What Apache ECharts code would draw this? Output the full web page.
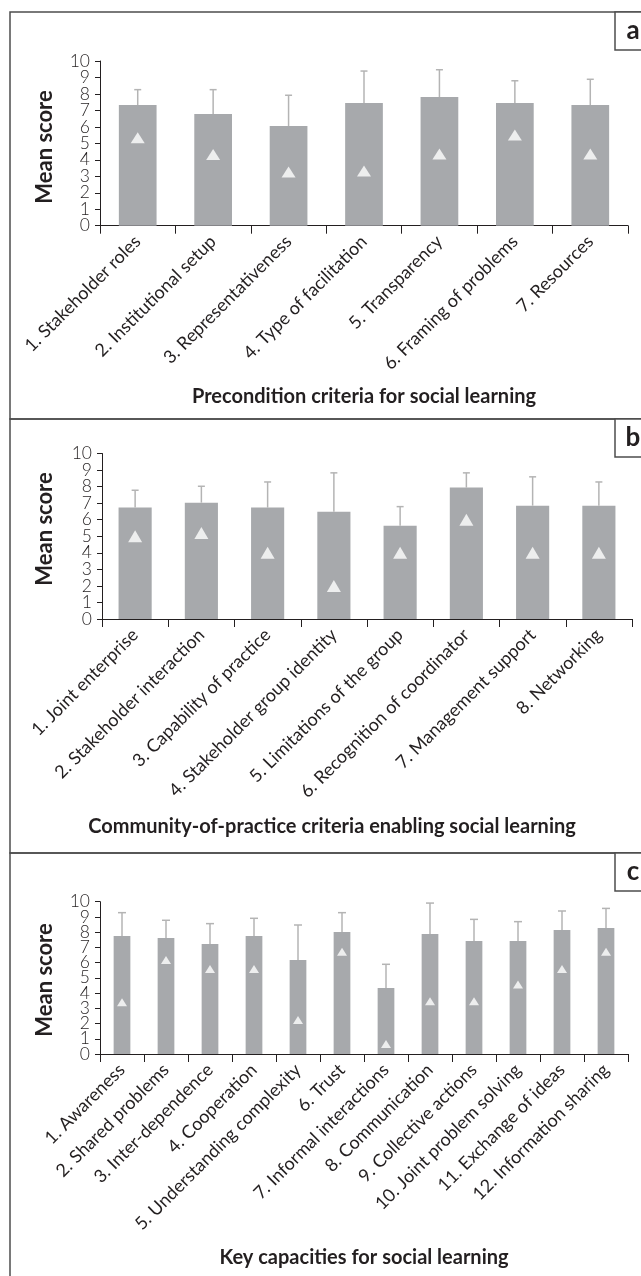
<!DOCTYPE html>
<html><head><meta charset="utf-8">
<script src="https://cdn.jsdelivr.net/npm/echarts@6/dist/echarts.min.js"></script>
<style>html,body{margin:0;padding:0;background:#fff}#c{width:641px;height:1276px}</style>
</head><body><div id="c"></div>
<script>
// Panel a
const catsA = ['1. Stakeholder roles','2. Institutional setup','3. Representativeness','4. Type of facilitation','5. Transparency','6. Framing of problems','7. Resources'];
const meanA = [7.33, 6.78, 6.05, 7.45, 7.81, 7.45, 7.33];
const sdA   = [0.93, 1.48, 1.87, 1.94, 1.66, 1.35, 1.56];
const triA  = [5.34, 4.33, 3.26, 3.32, 4.35, 5.5, 4.35];
// Panel b
const catsB = ['1. Joint enterprise','2. Stakeholder interaction','3. Capability of practice','4. Stakeholder group identity','5. Limitations of the group','6. Recognition of coordinator','7. Management support','8. Networking'];
const meanB = [6.73, 7.03, 6.73, 6.48, 5.64, 7.94, 6.85, 6.85];
const sdB   = [1.05, 0.99, 1.55, 2.35, 1.15, 0.89, 1.74, 1.43];
const triB  = [5.0, 5.2, 4.0, 2.0, 4.0, 6.0, 4.0, 4.0];
// Panel c
const catsC = ['1. Awareness','2. Shared problems','3. Inter-dependence','4. Cooperation','5. Understanding complexity','6. Trust','7. Informal interactions','8. Communication','9. Collective actions','10. Joint problem solving','11. Exchange of ideas','12. Information sharing'];
const meanC = [7.75, 7.62, 7.22, 7.75, 6.17, 8.01, 4.33, 7.88, 7.42, 7.42, 8.14, 8.27];
const sdC   = [1.53, 1.16, 1.34, 1.16, 2.30, 1.27, 1.56, 2.03, 1.42, 1.27, 1.25, 1.29];
const triC  = [3.39, 6.17, 5.58, 5.58, 2.23, 6.72, 0.66, 3.46, 3.46, 4.57, 5.58, 6.72];

// y tick labels (0..10, step 1)
const yTicks = ['0','1','2','3','4','5','6','7','8','9','10'];

const titles = ['Precondition criteria for social learning','Community-of-practice criteria enabling social learning','Key capacities for social learning'];
const letters = ['a','b','c'];
const yName = 'Mean score';

const FONT = 'Lato, "Liberation Sans", sans-serif';
const BAR = '#a7a9ac', ERR = '#b4b4b4', INK = '#231f20';

const panels = [
  {cats: catsA, mean: meanA, sd: sdA, tri: triA, grid: {left: 100, top: 61, width: 528, height: 164.7}, barW: '50%', triSize: [14, 11], cap: 7},
  {cats: catsB, mean: meanB, sd: sdB, tri: triB, grid: {left: 102, top: 453.5, width: 530, height: 165.5}, barW: '50%', triSize: [14, 12], cap: 7},
  {cats: catsC, mean: meanC, sd: sdC, tri: triC, grid: {left: 100, top: 901.7, width: 528, height: 152.3}, barW: '38%', triSize: [10, 8], cap: 8}
];

const chart = echarts.init(document.getElementById('c'), null, {renderer: 'canvas'});
const grids = [], xAxes = [], yAxes = [], labelAxes = [], series = [];
panels.forEach((p, i) => {
  grids.push(Object.assign({containLabel: false}, p.grid));
  xAxes.push({type: 'category', gridIndex: i, data: p.cats,
    axisLine: {show: true, lineStyle: {color: INK, width: 1}},
    axisTick: {show: true, length: 8, lineStyle: {color: INK}},
    axisLabel: {rotate: 45, interval: 0, fontFamily: FONT, fontSize: 18, color: INK, margin: 13}});
  yAxes.push({type: 'value', gridIndex: i, min: 0, max: 10, interval: 1,
    axisLine: {show: true, lineStyle: {color: INK, width: 1}},
    axisTick: {show: true, length: 5, lineStyle: {color: INK}},
    splitLine: {show: false}, axisLabel: {show: false}});
  // tick-label axis laid over the value axis: 11 evenly spaced labels 0..10
  labelAxes.push({type: 'category', gridIndex: i, data: yTicks, boundaryGap: false, position: 'left',
    axisLine: {show: false}, axisTick: {show: false}, splitLine: {show: false},
    axisLabel: {interval: 0, fontFamily: FONT, fontSize: 17.5, fontWeight: 300, color: INK, margin: 10,
      showMinLabel: true, showMaxLabel: true}});
  series.push({type: 'bar', xAxisIndex: i, yAxisIndex: i, data: p.mean, barWidth: p.barW,
    itemStyle: {color: BAR}, silent: true, z: 2});
  const cap = p.cap;
  series.push({type: 'custom', xAxisIndex: i, yAxisIndex: i, z: 3, silent: true,
    data: p.mean.map((m, k) => [k, m, m + p.sd[k]]),
    renderItem: function (params, api) {
      const a = api.coord([api.value(0), api.value(1)]);
      const b = api.coord([api.value(0), api.value(2)]);
      const st = {stroke: ERR, lineWidth: 1.5};
      return {type: 'group', children: [
        {type: 'line', shape: {x1: a[0], y1: a[1], x2: b[0], y2: b[1]}, style: st},
        {type: 'line', shape: {x1: b[0] - cap / 2, y1: b[1], x2: b[0] + cap / 2, y2: b[1]}, style: st}
      ]};
    }});
  series.push({type: 'scatter', xAxisIndex: i, yAxisIndex: i, z: 4, silent: true,
    symbol: 'triangle', symbolSize: p.triSize,
    data: p.tri.map((v, k) => [k, v]), itemStyle: {color: '#ffffff'}});
});

const tops = [12, 419, 853];
const bottoms = [419, 853, 1300];
const titleY = [397, 827, 1258];
const titleX = [364, 332, 364];
const nameY = [147, 529, 980];
const graphic = [];
for (let i = 0; i < 3; i++) {
  graphic.push({type: 'rect', shape: {x: 10, y: tops[i], width: 660, height: bottoms[i] - tops[i]},
    style: {fill: 'none', stroke: '#4d4d4d', lineWidth: 1.5}, z: 0});
  graphic.push({type: 'rect', shape: {x: 615, y: tops[i], width: 60, height: 38},
    style: {fill: '#fff', stroke: '#4d4d4d', lineWidth: 1.5}, z: 5});
  graphic.push({type: 'text', x: 633, y: tops[i] + 19, z: 6,
    style: {text: letters[i], font: 'bold 26px ' + FONT, fill: INK, align: 'center', verticalAlign: 'middle'}});
  graphic.push({type: 'text', x: titleX[i], y: titleY[i], z: 6,
    style: {text: titles[i], font: 'bold 20px ' + FONT, fill: INK, align: 'center', verticalAlign: 'middle'}});
  graphic.push({type: 'text', x: 45, y: nameY[i], rotation: Math.PI / 2, z: 6,
    style: {text: yName, font: 'bold 22px ' + FONT, fill: INK, align: 'center', verticalAlign: 'middle'}});
}

chart.setOption({animation: false, grid: grids, xAxis: xAxes, yAxis: yAxes.concat(labelAxes), series: series, graphic: graphic});
</script></body></html>
